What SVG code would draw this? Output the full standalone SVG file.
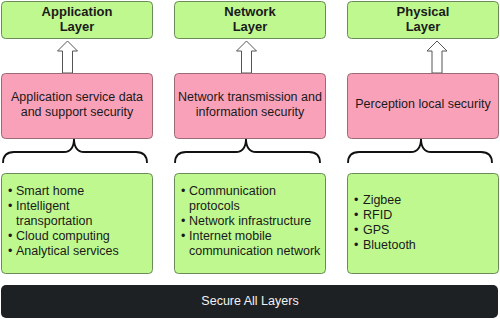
<svg xmlns="http://www.w3.org/2000/svg" width="500" height="319" viewBox="0 0 500 319">
<style>
.g{fill:#bff88f;stroke:#6a8a58;stroke-width:1}
.p{fill:#f9a1b8;stroke:#9a6a75;stroke-width:1}
.t{font-family:"Liberation Sans",Arial,sans-serif;font-size:12.5px;fill:#1a1a1a}
.b{font-weight:bold;font-size:13px;text-anchor:middle}
.c{text-anchor:middle}
.ar{fill:#fff;stroke:#555;stroke-width:1}
.br{fill:none;stroke:#111;stroke-width:1.8}
</style>
<g id="connectors">
<path class="ar" d="M62.5,73 V51 H57.5 L67.5,41 L77.5,51 H72.5 V73 Z"/>
<path class="ar" d="M241.5,73 V51 H236.5 L246.5,41 L256.5,51 H251.5 V73 Z"/>
<path class="ar" d="M432,73 V51 H427 L437,41 L447,51 H442 V73 Z"/>
<path class="br" d="M3,163 Q3,152 14,152 H64 Q74,152 74,138 Q74,152 84,152 H136 Q147,152 147,163"/>
<path class="br" d="M175,163 Q175,152 186,152 H236 Q246,152 246,138 Q246,152 256,152 H309 Q320,152 320,163"/>
<path class="br" d="M348,163 Q348,152 359,152 H411 Q421,152 421,138 Q421,152 431,152 H481 Q492,152 492,163"/>
</g>
<g id="app-layer">
<rect class="g" x="1.5" y="1.5" width="151" height="37" rx="4"/>
<text class="t b" x="77" y="16">Application</text>
<text class="t b" x="77" y="31">Layer</text>
</g>
<g id="net-layer">
<rect class="g" x="174.5" y="1.5" width="151" height="37" rx="4"/>
<text class="t b" x="250" y="16">Network</text>
<text class="t b" x="250" y="31">Layer</text>
</g>
<g id="phy-layer">
<rect class="g" x="347.5" y="1.5" width="151" height="37" rx="4"/>
<text class="t b" x="423" y="16">Physical</text>
<text class="t b" x="423" y="31">Layer</text>
</g>
<g id="app-sec">
<rect class="p" x="1.5" y="73.5" width="151" height="65" rx="4"/>
<text class="t c" x="77" y="101">Application service data</text>
<text class="t c" x="77" y="116">and support security</text>
</g>
<g id="net-sec">
<rect class="p" x="174.5" y="73.5" width="151" height="65" rx="4"/>
<text class="t c" x="250" y="101">Network transmission and</text>
<text class="t c" x="250" y="116">information security</text>
</g>
<g id="phy-sec">
<rect class="p" x="347.5" y="73.5" width="151" height="65" rx="4"/>
<text class="t c" x="423" y="108">Perception local security</text>
</g>
<g id="app-list">
<rect class="g" x="1.5" y="173.5" width="151" height="100" rx="4"/>
<text class="t" x="8" y="195">•</text><text class="t" x="16" y="195">Smart home</text>
<text class="t" x="8" y="210">•</text><text class="t" x="16" y="210">Intelligent</text>
<text class="t" x="16" y="225">transportation</text>
<text class="t" x="8" y="240">•</text><text class="t" x="16" y="240">Cloud computing</text>
<text class="t" x="8" y="255">•</text><text class="t" x="16" y="255">Analytical services</text>
</g>
<g id="net-list">
<rect class="g" x="174.5" y="173.5" width="151" height="100" rx="4"/>
<text class="t" x="181" y="195">•</text><text class="t" x="189" y="195">Communication</text>
<text class="t" x="189" y="210">protocols</text>
<text class="t" x="181" y="225">•</text><text class="t" x="189" y="225">Network infrastructure</text>
<text class="t" x="181" y="240">•</text><text class="t" x="189" y="240">Internet mobile</text>
<text class="t" x="189" y="255">communication network</text>
</g>
<g id="phy-list">
<rect class="g" x="347.5" y="173.5" width="151" height="100" rx="4"/>
<text class="t" x="354" y="204">•</text><text class="t" x="363" y="204">Zigbee</text>
<text class="t" x="354" y="219">•</text><text class="t" x="363" y="219">RFID</text>
<text class="t" x="354" y="234">•</text><text class="t" x="363" y="234">GPS</text>
<text class="t" x="354" y="249">•</text><text class="t" x="363" y="249">Bluetooth</text>
</g>
<g id="secure-all">
<rect x="1" y="285" width="497" height="33" rx="5" fill="#1e2124"/>
<text class="t c" x="250" y="305" style="fill:#f2f2f2">Secure All Layers</text>
</g>
</svg>
